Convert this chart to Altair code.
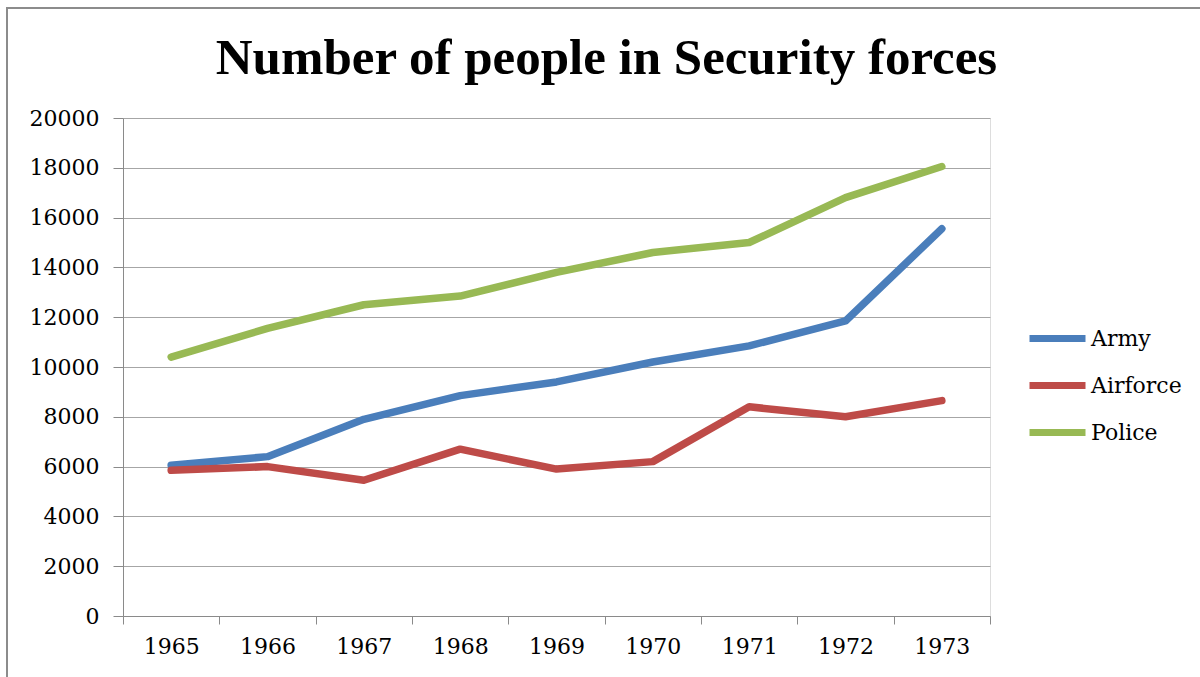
import altair as alt
import pandas as pd

years = ["1965", "1966", "1967", "1968", "1969", "1970", "1971", "1972", "1973"]
army = [6050, 6400, 7900, 8850, 9400, 10200, 10850, 11850, 15550]
airforce = [5850, 6000, 5450, 6700, 5900, 6200, 8400, 8000, 8650]
police = [10400, 11550, 12500, 12850, 13800, 14600, 15000, 16800, 18050]
series = ["Army", "Airforce", "Police"]
colors = ["#4A7EBB", "#BE4B48", "#98B954"]
y_ticks = [0, 2000, 4000, 6000, 8000, 10000, 12000, 14000, 16000, 18000, 20000]

rows = []
for name, vals in zip(series, [army, airforce, police]):
    for y, v in zip(years, vals):
        rows.append({"Year": y, "Value": v, "Series": name})
df = pd.DataFrame(rows)

LABEL_FONT = "DejaVu Serif"

lines = alt.Chart(df).mark_line(strokeWidth=7.5, strokeCap="round", strokeJoin="round").encode(
    x=alt.X("Year:O", sort=years,
            scale=alt.Scale(type="band", paddingInner=0, paddingOuter=0),
            axis=alt.Axis(title=None, labelAngle=0, tickBand="extent", tickSize=8,
                          labelPadding=12, grid=False, domainColor="#8a8a8a",
                          tickColor="#8a8a8a", labelFont=LABEL_FONT, labelFontSize=22,
                          labelColor="#000000")),
    y=alt.Y("Value:Q", scale=alt.Scale(domain=[0, 20000], nice=False),
            axis=alt.Axis(title=None, values=y_ticks, tickSize=10, labelPadding=14,
                          gridColor="#a6a6a6", domainColor="#8a8a8a", tickColor="#8a8a8a",
                          labelFont=LABEL_FONT, labelFontSize=22, labelColor="#000000",
                          format="d")),
    color=alt.Color("Series:N", sort=series,
                    scale=alt.Scale(domain=series, range=colors),
                    legend=alt.Legend(title=None, orient="none", legendX=903, legendY=189,
                                      symbolType="stroke", symbolStrokeWidth=7,
                                      symbolSize=3136, labelFont=LABEL_FONT,
                                      labelFontSize=22, labelColor="#000000",
                                      labelOffset=2, rowPadding=1)),
)

border = alt.Chart(alt.Data(values=[{"a": 1}])).mark_rect(
    fill="transparent", stroke="#8c8c8c", strokeWidth=2
).encode(
    x=alt.value(-116), x2=alt.value(1200), y=alt.value(-110), y2=alt.value(700)
)

chart = alt.layer(border, lines).properties(
    width=867, height=498,
    title=alt.TitleParams("Number of people in Security forces", font="Liberation Serif",
                          fontSize=51, fontWeight="bold", anchor="middle", dx=50,
                          baseline="alphabetic", offset=-118, color="#000000"),
    autosize=alt.AutoSizeParams(type="none"),
    padding={"left": 123, "top": 118, "right": 210, "bottom": 61},
).configure_view(strokeOpacity=0).configure(background="white")

chart.save("out.html", embed_options={"renderer": "svg", "actions": False})
